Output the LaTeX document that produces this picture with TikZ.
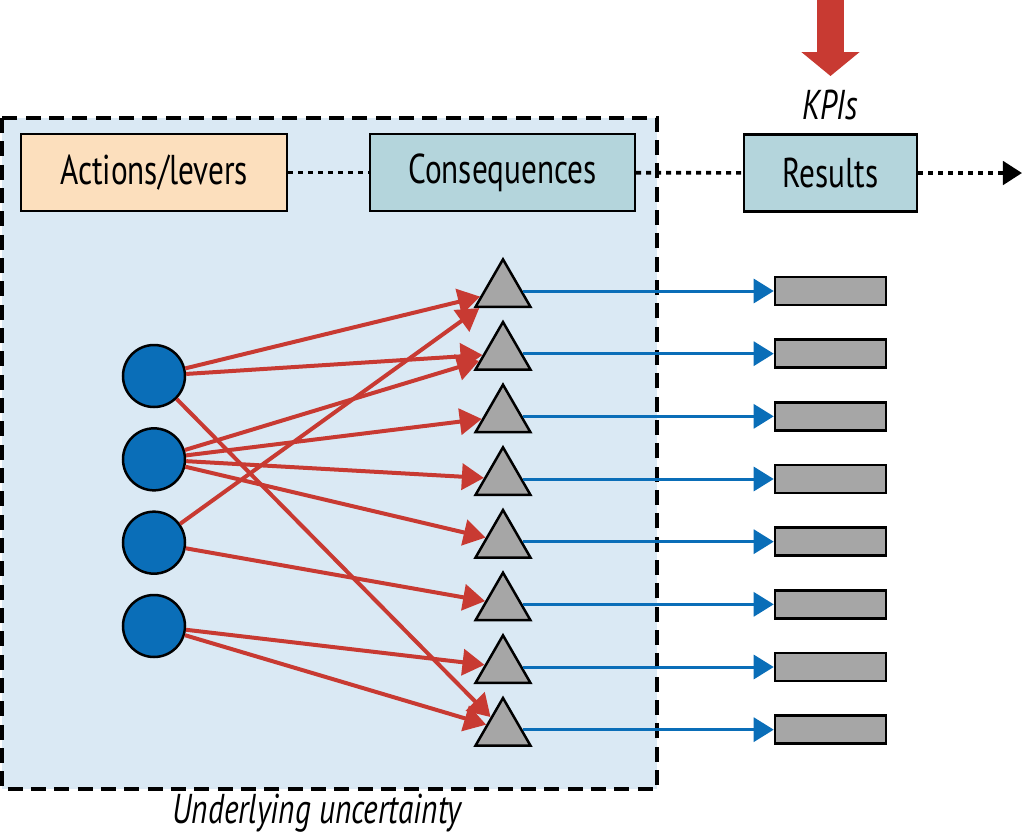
\documentclass[tikz,border=0pt]{standalone}
\usepackage{fontspec}
\setmainfont{PT Sans}[FakeStretch=0.75]
\usetikzlibrary{arrows.meta,shapes.geometric}
\definecolor{uncbg}{RGB}{218,233,244}
\definecolor{leverfill}{RGB}{252,223,189}
\definecolor{boxfill}{RGB}{180,213,220}
\definecolor{leverblue}{RGB}{10,110,184}
\definecolor{arrowred}{RGB}{200,58,50}
\definecolor{conseqgray}{RGB}{166,166,166}

\begin{document}
\begin{tikzpicture}[x=0.3pt,y=-0.3pt,
  label box/.style={rectangle,draw,line width=0.75pt,minimum height=23pt,inner sep=0pt,font=\fontsize{12.5}{14}\selectfont},
  lever node/.style={circle,fill=leverblue,draw,line width=0.75pt,minimum size=18.6pt,inner sep=0pt},
  conseq node/.style={regular polygon,regular polygon sides=3,fill=conseqgray,draw,line width=0.75pt,minimum size=19pt,inner sep=0pt},
  result node/.style={rectangle,fill=conseqgray,draw,line width=0.75pt,minimum width=33.3pt,minimum height=8.4pt,inner sep=0pt},
  cause/.style={-{Triangle[length=6.6pt,width=7.8pt]},arrowred,line width=1.2pt},
  effect/.style={-{Triangle[length=6pt,width=7.2pt]},leverblue,line width=0.9pt},
  link/.style={draw,line width=1.1pt,dash pattern=on 1.5pt off 1.5pt}]

  \useasboundingbox (0,0) rectangle (1024,835);

  % region of underlying uncertainty
  \draw[fill=uncbg,line width=1pt,dash pattern=on 4.5pt off 2.5pt] (2,118) rectangle (657,789);
  \node[font=\fontsize{12.5}{14}\selectfont\itshape] (unc) at (317,813) {Underlying uncertainty};

  % header boxes
  \node[label box,fill=leverfill,minimum width=79.8pt] (act) at (154,172.5) {Actions/levers};
  \node[label box,fill=boxfill,minimum width=79.5pt] (cons) at (502.5,172.5) {Consequences};
  \node[label box,fill=boxfill,minimum width=51.9pt] (res) at (830.5,173) {Results};
  \coordinate (dotend) at (1022,173);

  \path[link]
    (act) edge (cons)
    (cons) edge (res);
  \draw[link,-{Triangle[length=5.7pt,width=7pt]}] (res) -- (dotend);

  % KPIs
  \node[font=\fontsize{12.5}{14}\selectfont\itshape] (kpis) at (830,105) {KPIs};
  \coordinate (kpitop) at (830.5,-5);
  \coordinate (kpitip) at (830.5,76);
  \draw[arrowred,line width=8.1pt,-{Triangle[length=7.2pt,width=17.1pt]}] (kpitop) -- (kpitip);

  % actions
  \node[lever node] (c1) at (154,376) {};
  \node[lever node,node distance=25pt] (c2) [below of=c1] {};
  \node[lever node,node distance=25pt] (c3) [below of=c2] {};
  \node[lever node,node distance=25pt] (c4) [below of=c3] {};

  % consequences
  \node[conseq node] (t1) at (503,291) {};
  \node[conseq node,node distance=18.8pt] (t2) [below of=t1] {};
  \node[conseq node,node distance=18.8pt] (t3) [below of=t2] {};
  \node[conseq node,node distance=18.8pt] (t4) [below of=t3] {};
  \node[conseq node,node distance=18.8pt] (t5) [below of=t4] {};
  \node[conseq node,node distance=18.8pt] (t6) [below of=t5] {};
  \node[conseq node,node distance=18.8pt] (t7) [below of=t6] {};
  \node[conseq node,node distance=18.8pt] (t8) [below of=t7] {};

  % results
  \node[result node] (r1) at (830.5,291) {};
  \node[result node,node distance=18.8pt] (r2) [below of=r1] {};
  \node[result node,node distance=18.8pt] (r3) [below of=r2] {};
  \node[result node,node distance=18.8pt] (r4) [below of=r3] {};
  \node[result node,node distance=18.8pt] (r5) [below of=r4] {};
  \node[result node,node distance=18.8pt] (r6) [below of=r5] {};
  \node[result node,node distance=18.8pt] (r7) [below of=r6] {};
  \node[result node,node distance=18.8pt] (r8) [below of=r7] {};

  \path[cause]
    (c1) edge (t1)
         edge (t2)
         edge (t8)
    (c2) edge (t2)
         edge (t3)
         edge (t4)
         edge (t5)
    (c3) edge (t1)
         edge (t6)
    (c4) edge (t7)
         edge (t8);

  \path[effect]
    (t1) edge (r1)
    (t2) edge (r2)
    (t3) edge (r3)
    (t4) edge (r4)
    (t5) edge (r5)
    (t6) edge (r6)
    (t7) edge (r7)
    (t8) edge (r8);
\end{tikzpicture}
\end{document}
